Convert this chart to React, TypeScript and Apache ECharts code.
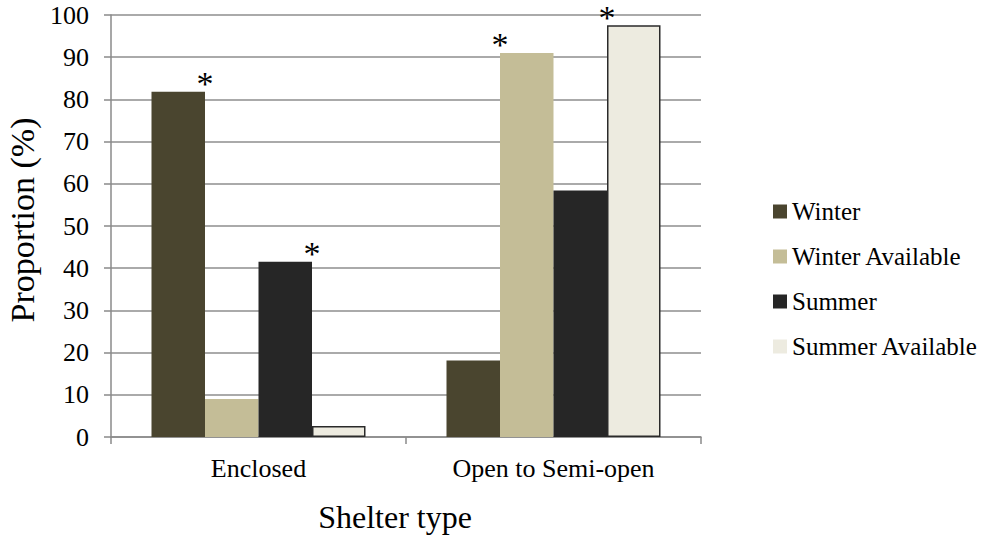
import React, { useEffect, useRef } from "react";
import * as echarts from "echarts";

const categories = ["Enclosed", "Open to Semi-open"];
const seriesNames = ["Winter", "Winter Available", "Summer", "Summer Available"];
const winter = [81.8, 18.1];
const winterAvailable = [9.0, 91.0];
const summer = [41.5, 58.4];
const summerAvailable = [2.6, 97.6];
// significance markers (*) per series, per category
const winterSig = [true, false];
const winterAvailableSig = [false, true];
const summerSig = [true, false];
const summerAvailableSig = [false, true];
const yTicks = [0, 10, 20, 30, 40, 50, 60, 70, 80, 90, 100];

const FONT = "Liberation Serif, Times New Roman, serif";
const colors = ["#4a452f", "#c4bd97", "#262626", "#edebe0"];

export default function App() {
  const ref = useRef<HTMLDivElement>(null);
  useEffect(() => {
    if (!ref.current) return;
    const chart = echarts.init(ref.current, null, { renderer: "svg" });
    const values = [winter, winterAvailable, summer, summerAvailable];
    const sigs = [winterSig, winterAvailableSig, summerSig, summerAvailableSig];
    const barW = 53.5;
    const series = seriesNames.map((name, si) => ({
      name,
      type: "bar",
      barWidth: barW,
      barGap: "0%",
      itemStyle:
        si === 3
          ? { color: colors[si], borderColor: "#2a2a2a", borderWidth: 1.5 }
          : { color: colors[si] },
      data: values[si].map((v, ci) => ({
        value: v,
        label: sigs[si][ci]
          ? {
              show: true,
              formatter: "*",
              position: "top",
              distance: 0,
              offset: [ci === 0 ? barW / 2 : -barW / 2, 9],
              fontFamily: FONT,
              fontSize: 34,
              color: "#000",
            }
          : { show: false },
      })),
    }));
    chart.setOption({
      animation: false,
      backgroundColor: "#ffffff",
      textStyle: { fontFamily: FONT },
      grid: {
        left: 111,
        right: 292,
        top: 15,
        bottom: 102,
        containLabel: false,
        outerBoundsMode: "none",
      },
      legend: {
        orient: "vertical",
        left: 768,
        top: 194,
        itemWidth: 14,
        itemHeight: 14,
        itemGap: 20,
        icon: "rect",
        textStyle: { fontFamily: FONT, fontSize: 25, color: "#000" },
        data: seriesNames.map((n, i) => ({
          name: n,
          itemStyle: { color: colors[i], borderWidth: 0 },
        })),
      },
      xAxis: {
        type: "category",
        data: categories,
        name: "Shelter type",
        nameLocation: "middle",
        nameGap: 64,
        nameTextStyle: {
          fontFamily: FONT,
          fontSize: 32,
          color: "#000",
          verticalAlign: "top",
          padding: [0, 22, 0, 0],
        },
        axisLine: { show: true, lineStyle: { color: "#8a8a8a", width: 1.5 } },
        axisTick: { show: true, length: 7, lineStyle: { color: "#8a8a8a", width: 1.5 } },
        axisLabel: { fontFamily: FONT, fontSize: 26, color: "#000", margin: 18 },
      },
      yAxis: {
        type: "value",
        min: yTicks[0],
        max: yTicks[yTicks.length - 1],
        interval: 10,
        name: "Proportion (%)",
        nameLocation: "middle",
        nameGap: 66,
        nameTextStyle: {
          fontFamily: FONT,
          fontSize: 34,
          color: "#000",
          padding: [0, 0, 0, 12],
        },
        axisLine: { show: true, lineStyle: { color: "#8a8a8a", width: 1.5 } },
        axisTick: { show: true, length: 7, lineStyle: { color: "#8a8a8a", width: 1.5 } },
        axisLabel: { fontFamily: FONT, fontSize: 26, color: "#000", margin: 22 },
        splitLine: { show: true, lineStyle: { color: "#8e8e8e", width: 1.5 } },
      },
      series,
    });
    return () => chart.dispose();
  }, []);
  return (
    <div
      ref={ref}
      style={{ position: "fixed", left: 0, top: 0, width: 993, height: 539, background: "#fff" }}
    />
  );
}
